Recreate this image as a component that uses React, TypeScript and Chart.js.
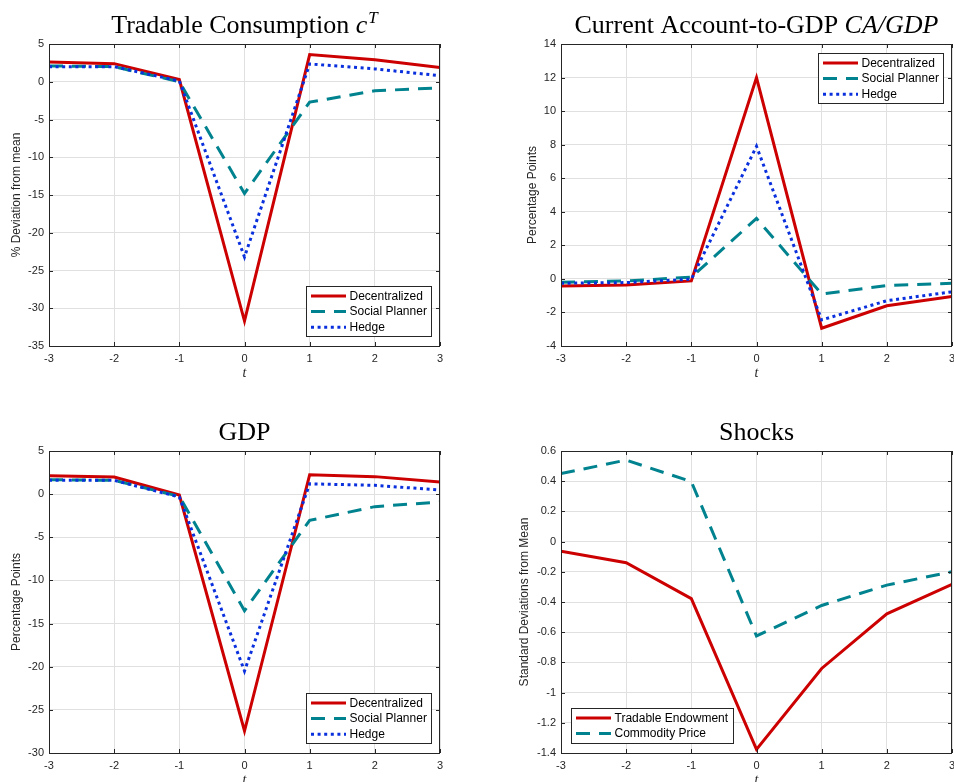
import React, { useEffect, useRef } from 'react';
import { Chart, registerables } from 'chart.js';

Chart.register(...registerables);

// ---------- data ----------
const periods = [-3, -2, -1, 0, 1, 2, 3];

const tcDecentralized = [2.6, 2.4, 0.3, -31.7, 3.6, 2.9, 1.9];
const tcSocialPlanner = [2.1, 2.0, 0.0, -14.8, -2.7, -1.2, -0.8];
const tcHedge = [2.0, 2.0, 0.1, -23.2, 2.35, 1.7, 0.8];

const caDecentralized = [-0.42, -0.36, -0.12, 12.0, -2.94, -1.6, -1.05];
const caSocialPlanner = [-0.2, -0.12, 0.1, 3.6, -0.9, -0.4, -0.26];
const caHedge = [-0.26, -0.22, -0.02, 7.9, -2.45, -1.3, -0.77];

const gdpDecentralized = [2.14, 1.98, -0.1, -27.45, 2.25, 2.03, 1.4];
const gdpSocialPlanner = [1.67, 1.6, -0.26, -13.5, -3.04, -1.45, -0.9];
const gdpHedge = [1.6, 1.6, -0.33, -20.5, 1.2, 1.02, 0.48];

const shockEndowment = [-0.064, -0.14, -0.378, -1.376, -0.84, -0.478, -0.283];
const shockCommodity = [0.45, 0.54, 0.397, -0.625, -0.423, -0.288, -0.2];

// ---------- styles ----------
const RED = '#cc0000';
const TEAL = '#00838f';
const BLUE = '#0a30dd';
const GRID = '#e0e0e0';
const AXIS = '#262626';
const SANS = '"Liberation Sans", Arial, Helvetica, sans-serif';
const SERIF = '"Liberation Serif", "Times New Roman", serif';

const W = 477;
const H = 391;

type Seg = { text: string; italic?: boolean; sup?: boolean };
type Series = { label: string; data: number[]; color: string; dash: number[]; width: number };
type Panel = {
  x: number;
  y: number;
  area: { l: number; r: number; t: number; b: number };
  title: Seg[];
  titleBase: number;
  yLabel: string;
  yLabelX: number;
  yMin: number;
  yMax: number;
  yStep: number;
  series: Series[];
  legend: { corner: 'br' | 'tr' | 'bl'; dx: number; dy: number };
};

const DEC = (d: number[]): Series => ({ label: 'Decentralized', data: d, color: RED, dash: [], width: 3 });
const SP = (d: number[]): Series => ({ label: 'Social Planner', data: d, color: TEAL, dash: [14, 9], width: 3 });
const HG = (d: number[]): Series => ({ label: 'Hedge', data: d, color: BLUE, dash: [3, 3.6], width: 3 });

const panels: Panel[] = [
  {
    x: 0, y: 0,
    area: { l: 49, r: 440, t: 44, b: 346 },
    title: [{ text: 'Tradable Consumption ' }, { text: 'c', italic: true }, { text: 'T', italic: true, sup: true }],
    titleBase: 33,
    yLabel: '% Deviation from mean',
    yLabelX: 17,
    yMin: -35, yMax: 5, yStep: 5,
    series: [DEC(tcDecentralized), SP(tcSocialPlanner), HG(tcHedge)],
    legend: { corner: 'br', dx: 9, dy: 10 },
  },
  {
    x: 477, y: 0,
    area: { l: 84, r: 475, t: 44, b: 346 },
    title: [{ text: 'Current Account-to-GDP ' }, { text: 'CA/GDP', italic: true }],
    titleBase: 33,
    yLabel: 'Percentage Points',
    yLabelX: 56,
    yMin: -4, yMax: 14, yStep: 2,
    series: [DEC(caDecentralized), SP(caSocialPlanner), HG(caHedge)],
    legend: { corner: 'tr', dx: 9, dy: 9 },
  },
  {
    x: 0, y: 391,
    area: { l: 49, r: 440, t: 60, b: 362 },
    title: [{ text: 'GDP' }],
    titleBase: 49,
    yLabel: 'Percentage Points',
    yLabelX: 17,
    yMin: -30, yMax: 5, yStep: 5,
    series: [DEC(gdpDecentralized), SP(gdpSocialPlanner), HG(gdpHedge)],
    legend: { corner: 'br', dx: 9, dy: 10 },
  },
  {
    x: 477, y: 391,
    area: { l: 84, r: 475, t: 60, b: 362 },
    title: [{ text: 'Shocks' }],
    titleBase: 49,
    yLabel: 'Standard Deviations from Mean',
    yLabelX: 48,
    yMin: -1.4, yMax: 0.6, yStep: 0.2,
    series: [
      { label: 'Tradable Endowment', data: shockEndowment, color: RED, dash: [], width: 3 },
      { label: 'Commodity Price', data: shockCommodity, color: TEAL, dash: [14, 9], width: 3 },
    ],
    legend: { corner: 'bl', dx: 10, dy: 10 },
  },
];

const fmt = (v: number | string) => {
  const n = Math.round(Number(v) * 10) / 10;
  return n === 0 ? '0' : String(n);
};

function makeDecor(p: Panel) {
  return {
    id: 'decor',
    afterDraw(chart: any) {
      const ctx: CanvasRenderingContext2D = chart.ctx;
      const { left: l, right: r, top: t, bottom: b } = chart.chartArea;
      const xs = chart.scales.x;
      const ys = chart.scales.y;
      ctx.save();

      // box
      ctx.strokeStyle = AXIS;
      ctx.lineWidth = 1;
      ctx.setLineDash([]);
      ctx.beginPath();
      ctx.rect(Math.round(l) + 0.5, Math.round(t) + 0.5, Math.round(r - l) - 1, Math.round(b - t));
      ctx.stroke();

      // inward ticks
      const tl = 4;
      ctx.beginPath();
      xs.ticks.forEach((tk: any) => {
        const px = Math.round(xs.getPixelForValue(tk.value)) + 0.5;
        ctx.moveTo(px, b);
        ctx.lineTo(px, b - tl);
        ctx.moveTo(px, t);
        ctx.lineTo(px, t + tl);
      });
      ys.ticks.forEach((tk: any) => {
        const py = Math.round(ys.getPixelForValue(tk.value)) + 0.5;
        ctx.moveTo(l, py);
        ctx.lineTo(l + tl, py);
        ctx.moveTo(r, py);
        ctx.lineTo(r - tl, py);
      });
      ctx.stroke();

      // title
      const cx = (l + r) / 2;
      const base = p.titleBase;
      const tsize = 26;
      const fontFor = (s: Seg) => `${s.italic ? 'italic ' : ''}${s.sup ? 17 : tsize}px ${SERIF}`;
      let total = 0;
      p.title.forEach((s) => {
        ctx.font = fontFor(s);
        total += ctx.measureText(s.text).width + (s.sup ? 1 : 0);
      });
      let x = cx - total / 2;
      ctx.fillStyle = '#000';
      ctx.textBaseline = 'alphabetic';
      ctx.textAlign = 'left';
      p.title.forEach((s) => {
        ctx.font = fontFor(s);
        if (s.sup) x += 1;
        ctx.fillText(s.text, x, s.sup ? base - 10 : base);
        x += ctx.measureText(s.text).width;
      });

      // y label
      ctx.save();
      ctx.translate(p.yLabelX, (t + b) / 2);
      ctx.rotate(-Math.PI / 2);
      ctx.font = `12px ${SANS}`;
      ctx.fillStyle = AXIS;
      ctx.textAlign = 'center';
      ctx.textBaseline = 'middle';
      ctx.fillText(p.yLabel, 0, 0);
      ctx.restore();

      // x label
      ctx.font = `italic 14px ${SERIF}`;
      ctx.fillStyle = AXIS;
      ctx.textAlign = 'center';
      ctx.textBaseline = 'middle';
      ctx.fillText('t', cx, b + 27);

      // legend
      ctx.font = `12px ${SANS}`;
      const maxTw = Math.max(...p.series.map((s) => ctx.measureText(s.label).width));
      const lw = 43 + maxTw + 5;
      const rowH = 15.6;
      const lh = 19 + rowH * (p.series.length - 1);
      let bx = 0;
      let by = 0;
      if (p.legend.corner === 'br') {
        bx = r - p.legend.dx - lw;
        by = b - p.legend.dy - lh;
      } else if (p.legend.corner === 'tr') {
        bx = r - p.legend.dx - lw;
        by = t + p.legend.dy;
      } else {
        bx = l + p.legend.dx;
        by = b - p.legend.dy - lh;
      }
      bx = Math.round(bx) + 0.5;
      by = Math.round(by) + 0.5;
      ctx.fillStyle = '#fff';
      ctx.fillRect(bx, by, lw, lh);
      ctx.strokeStyle = AXIS;
      ctx.lineWidth = 1;
      ctx.strokeRect(bx, by, Math.round(lw), Math.round(lh));
      p.series.forEach((s, i) => {
        const ry = by + 9.5 + rowH * i;
        ctx.strokeStyle = s.color;
        ctx.lineWidth = s.width;
        ctx.lineCap = 'butt';
        ctx.setLineDash(s.dash);
        ctx.beginPath();
        ctx.moveTo(bx + 4.5, ry);
        ctx.lineTo(bx + 39.5, ry);
        ctx.stroke();
        ctx.setLineDash([]);
        ctx.fillStyle = '#000';
        ctx.textAlign = 'left';
        ctx.textBaseline = 'middle';
        ctx.fillText(s.label, bx + 43, ry + 0.5);
      });

      ctx.restore();
    },
  };
}

function PanelChart({ p }: { p: Panel }) {
  const ref = useRef<HTMLCanvasElement | null>(null);
  useEffect(() => {
    if (!ref.current) return;
    const n = p.series.length;
    const chart = new Chart(ref.current, {
      type: 'line',
      data: {
        datasets: p.series.map((s, i) => ({
          label: s.label,
          data: periods.map((t, j) => ({ x: t, y: s.data[j] })),
          borderColor: s.color,
          backgroundColor: s.color,
          borderWidth: s.width,
          borderDash: s.dash,
          borderCapStyle: 'butt',
          borderJoinStyle: 'miter',
          pointRadius: 0,
          pointHoverRadius: 0,
          fill: false,
          tension: 0,
          order: n - i,
        })),
      },
      options: {
        responsive: false,
        animation: false,
        events: [],
        devicePixelRatio: 1,
        layout: { padding: { left: 0, top: p.area.t, right: W - p.area.r, bottom: 0 } },
        plugins: {
          legend: { display: false },
          tooltip: { enabled: false },
          title: { display: false },
        },
        scales: {
          x: {
            type: 'linear',
            min: -3,
            max: 3,
            ticks: {
              stepSize: 1,
              padding: 6,
              color: AXIS,
              font: { family: SANS, size: 11 },
              callback: (v: any) => fmt(v),
              maxRotation: 0,
              autoSkip: false,
            },
            grid: { color: GRID, lineWidth: 1, drawTicks: false },
            border: { display: false },
            afterFit: (s: any) => {
              s.height = H - p.area.b;
              s.paddingLeft = 0;
              s.paddingRight = 0;
            },
          },
          y: {
            type: 'linear',
            min: p.yMin,
            max: p.yMax,
            ticks: {
              stepSize: p.yStep,
              padding: 5,
              color: AXIS,
              font: { family: SANS, size: 11 },
              callback: (v: any) => fmt(v),
              autoSkip: false,
            },
            grid: { color: GRID, lineWidth: 1, drawTicks: false },
            border: { display: false },
            afterFit: (s: any) => {
              s.width = p.area.l;
              s.paddingTop = 0;
              s.paddingBottom = 0;
            },
          },
        },
      } as any,
      plugins: [makeDecor(p)],
    } as any);
    return () => chart.destroy();
  }, [p]);
  return (
    <canvas
      ref={ref}
      width={W}
      height={H}
      style={{ position: 'absolute', left: p.x, top: p.y, width: W, height: H }}
    />
  );
}

export default function App() {
  return (
    <div style={{ position: 'absolute', left: 0, top: 0, width: 954, height: 782, background: '#fff', overflow: 'hidden' }}>
      {panels.map((p, i) => (
        <PanelChart key={i} p={p} />
      ))}
    </div>
  );
}
